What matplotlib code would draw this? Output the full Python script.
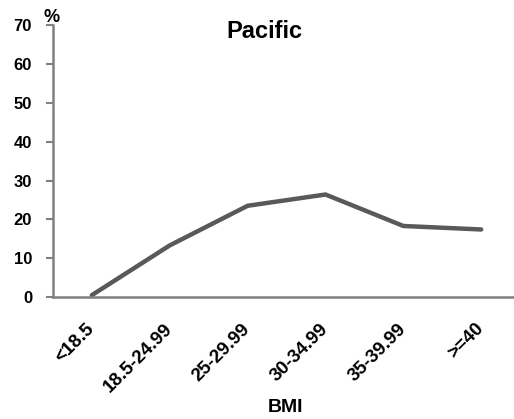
import matplotlib.pyplot as plt
import numpy as np

plt.rcParams['font.family'] = ['Liberation Sans', 'DejaVu Sans']
plt.rcParams['font.weight'] = 'bold'

categories = ["<18.5", "18.5-24.99", "25-29.99", "30-34.99", "35-39.99", ">=40"]
pacific = [0.5, 13.3, 23.5, 26.4, 18.3, 17.4]

fig = plt.figure(figsize=(5.14, 4.19), dpi=100)
ax = fig.add_axes([0.103, 0.291, 0.909, 0.649])

x = np.arange(len(categories))
ax.plot(x, pacific, color='#595959', linewidth=3.2, solid_capstyle='round', solid_joinstyle='miter')

ax.set_xlim(-0.5, len(categories) - 0.5)
ax.set_ylim(0, 70)
ax.set_yticks(range(0, 71, 10))
ax.set_xticks(x)
ax.set_xticklabels(categories, rotation=45, ha='right', va='center', rotation_mode='anchor',
                   fontsize=13.5, fontweight='bold')
ax.tick_params(axis='y', labelsize=12, length=5, color='#808080', width=1.5, pad=10)
ax.tick_params(axis='x', length=0, pad=21)
for lbl in ax.get_yticklabels():
    lbl.set_fontweight('bold')

for s in ['top', 'right']:
    ax.spines[s].set_visible(False)
for s in ['left', 'bottom']:
    ax.spines[s].set_color('#808080')
    ax.spines[s].set_linewidth(1.8)

fig.text(0.515, 0.924, "Pacific", fontsize=17, fontweight='bold', ha='center', va='center')
fig.text(0.101, 0.959, "%", fontsize=13, fontweight='bold', ha='center', va='center')
fig.text(0.556, 0.027, "BMI", fontsize=14, fontweight='bold', ha='center', va='center')

plt.savefig('out.png', dpi=100)
